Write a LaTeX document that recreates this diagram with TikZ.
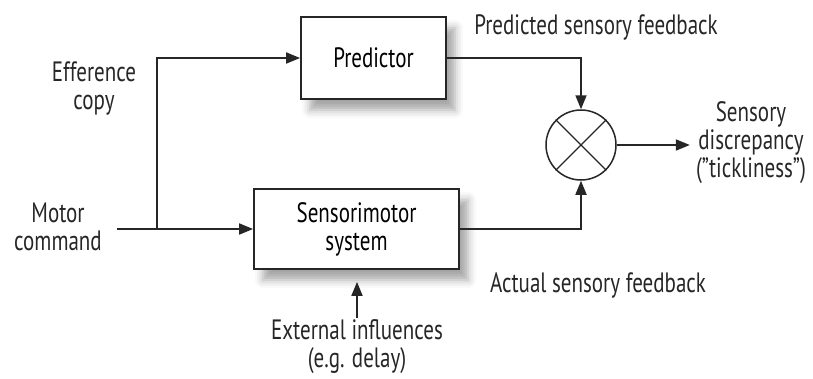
\documentclass[tikz,border=0pt]{standalone}
\usepackage{fontspec}
\setmainfont[FakeStretch=0.75]{PT Sans}
\usetikzlibrary{arrows.meta,shadows.blur}

\definecolor{ink}{gray}{0.15}

\tikzset{
  blockbox/.style={draw=ink, line width=1.8pt, fill=white, align=center,
    blur shadow={shadow xshift=9pt, shadow yshift=-11pt, shadow blur radius=8pt,
      shadow opacity=35}},
  label/.style={align=center, text=ink, inner sep=2pt},
  wire/.style={draw=ink, line width=1.8pt},
  flow/.style={wire, -{Triangle[length=14pt,width=11pt]}},
}

\begin{document}
\begin{tikzpicture}[x=1pt, y=-1pt, font=\fontsize{28}{28}\selectfont]
  \useasboundingbox (0,0) rectangle (813,378);

  % blocks
  \node[blockbox, minimum width=145pt, minimum height=82pt] (pred) at (373.5,58) {Predictor};
  \node[blockbox, minimum width=205pt, minimum height=80pt] (sms) at (356.5,229) {Sensorimotor\\system};
  \node[circle, draw=ink, line width=1.5pt, minimum size=70pt, inner sep=0pt] (cmp) at (581,145) {};
  \draw[ink, line width=1.1pt] (cmp.north west) -- (cmp.south east);
  \draw[ink, line width=1.1pt] (cmp.north east) -- (cmp.south west);

  % labels
  \node[label] (motor) at (58,227) {Motor\\command};
  \node[label] (eff) at (94,88) {Efference\\copy};
  \node[label] (predfb) at (596,27) {Predicted sensory feedback};
  \node[label] (actfb) at (598,285) {Actual sensory feedback};
  \node[label] (disc) at (751,143) {Sensory\\discrepancy\\(\char34tickliness\char34)};
  \node[label] (ext) at (357,347) {External influences\\(e.g. delay)};

  % connectors
  \coordinate (mstart) at (117,229);
  \coordinate (split) at (157,229);
  \draw[flow] (mstart) -- (sms.west);
  \draw[flow] (split) |- (pred.west);
  \draw[flow] (pred.east) -| (cmp.north);
  \draw[flow] (sms.east) -| (cmp.south);
  \draw[flow, shorten >=4pt] (cmp.east) -- (cmp.east -| disc.west);
  \draw[flow, shorten >=12pt] (ext.north) -- (ext.north |- sms.south);
\end{tikzpicture}
\end{document}
